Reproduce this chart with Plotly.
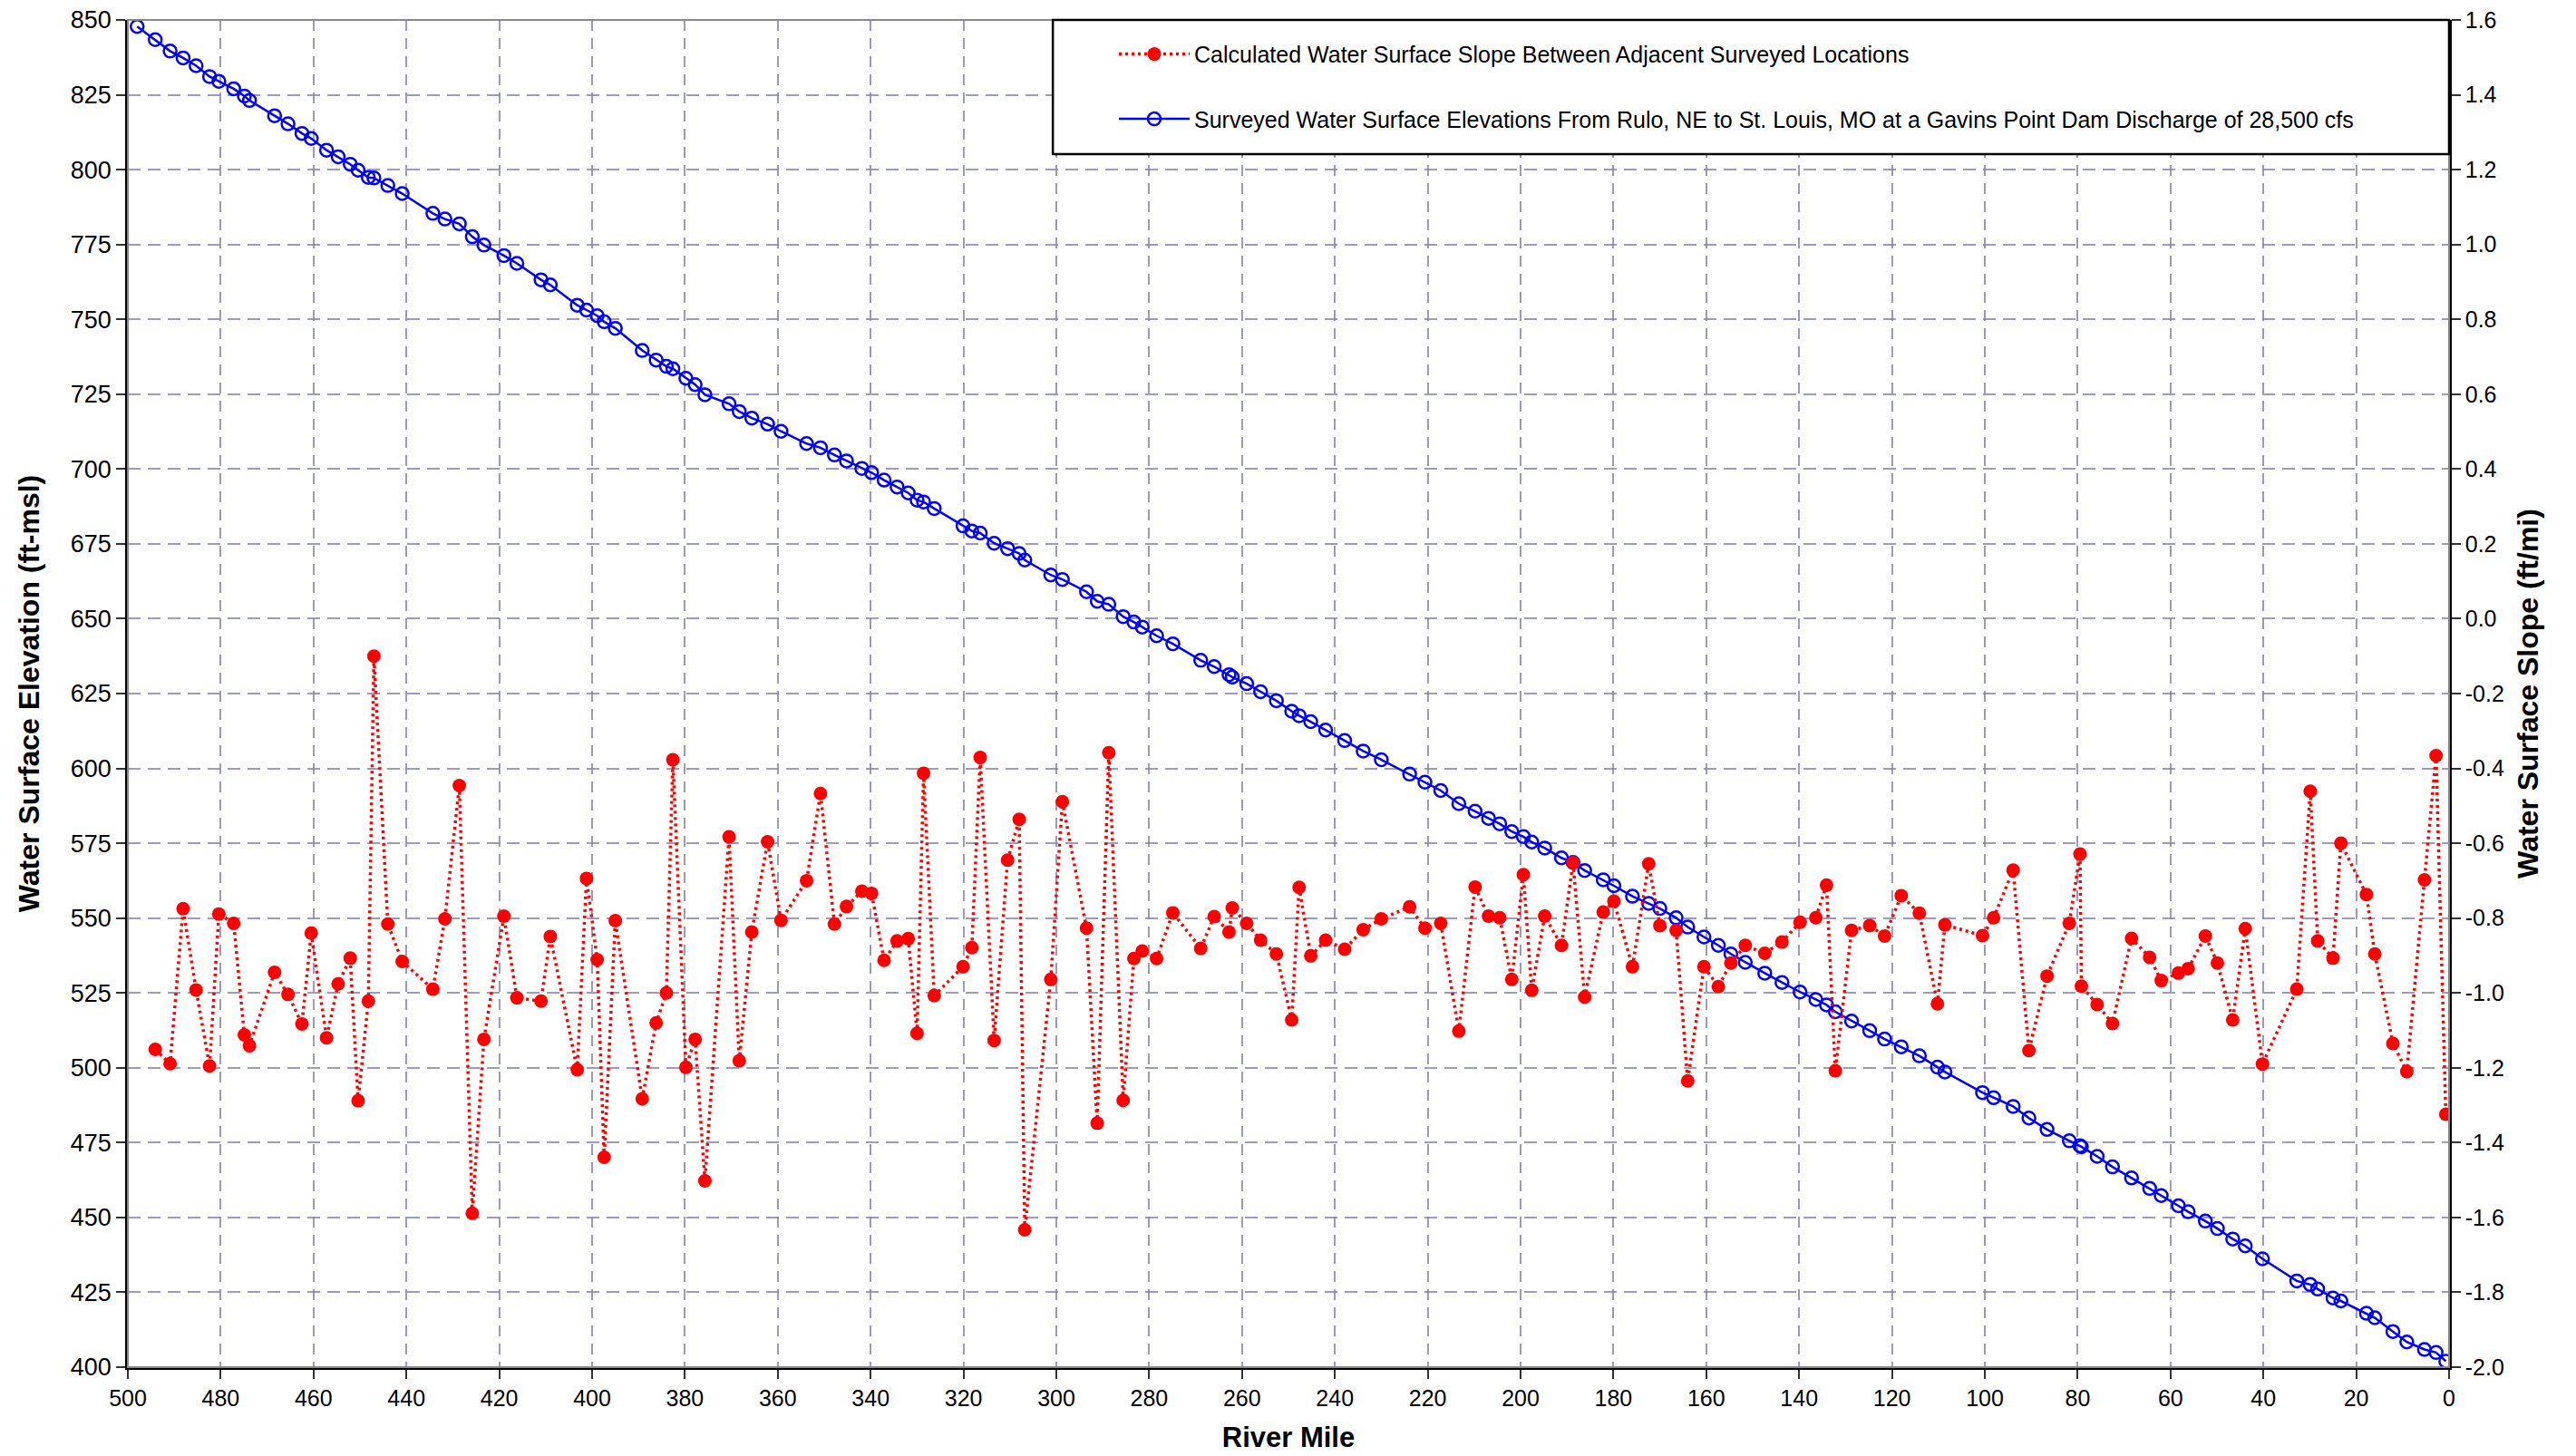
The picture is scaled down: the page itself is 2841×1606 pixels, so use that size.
import plotly.graph_objects as go

# ---- data ----
river_mile = [
    498.0, 494.1, 490.9, 488.1, 485.3, 482.4, 480.4, 477.2, 474.9, 473.8,
    468.4, 465.5, 462.5, 460.5, 457.2, 454.7, 452.1, 450.4, 448.2, 447.0,
    444.0, 440.9, 434.3, 431.7, 428.6, 425.8, 423.3, 419.0, 416.2, 411.0,
    409.0, 403.2, 401.2, 398.9, 397.4, 395.0, 389.2, 386.2, 384.0, 382.6,
    379.8, 377.8, 375.7, 370.5, 368.3, 365.6, 362.2, 359.3, 353.8, 350.8,
    347.8, 345.2, 341.9, 339.8, 337.1, 334.3, 331.9, 330.0, 328.6, 326.3,
    320.1, 318.2, 316.4, 313.4, 310.5, 308.0, 306.8, 301.2, 298.7, 293.5,
    291.2, 288.7, 285.6, 283.3, 281.5, 278.4, 274.9, 268.9, 266.0, 262.8,
    262.1, 259.0, 256.0, 252.6, 249.3, 247.7, 245.2, 242.0, 237.9, 233.9,
    230.0, 223.9, 220.6, 217.2, 213.3, 209.8, 206.9, 204.5, 201.9, 199.4,
    197.6, 194.8, 191.2, 188.7, 186.2, 182.2, 179.9, 175.9, 172.4, 170.0,
    166.5, 164.0, 160.5, 157.4, 154.7, 151.6, 147.4, 143.7, 139.8, 136.4,
    134.1, 132.2, 128.7, 124.8, 121.6, 118.0, 114.1, 110.2, 108.6, 100.5,
    98.1, 93.9, 90.5, 86.6, 81.8, 79.5, 79.2, 75.8, 72.5, 68.4,
    64.5, 62.0, 58.3, 56.2, 52.5, 49.9, 46.6, 43.9, 40.2, 32.8,
    29.9, 28.3, 25.0, 23.3, 17.8, 16.0, 12.1, 9.1, 5.3, 2.8,
    0.7,
]

elevation_ft_msl = [
    847.8, 843.4, 839.6, 837.3, 834.7, 831.1, 829.5, 827.0, 824.6, 823.1,
    818.0, 815.3, 812.1, 810.4, 806.5, 804.3, 801.8, 799.8, 797.4, 797.2,
    794.7, 792.0, 785.4, 783.5, 781.9, 777.6, 774.8, 771.3, 768.7, 763.2,
    761.5, 754.7, 753.1, 751.2, 749.2, 747.0, 739.6, 736.4, 734.3, 733.5,
    730.3, 728.2, 724.8, 721.8, 719.2, 717.0, 715.0, 712.6, 708.5, 707.1,
    704.7, 702.7, 700.2, 698.8, 696.3, 694.0, 692.0, 689.6, 689.0, 686.8,
    681.0, 679.3, 678.6, 675.2, 673.4, 671.8, 669.6, 664.6, 663.1, 659.0,
    655.8, 654.8, 650.7, 648.9, 647.2, 644.3, 641.6, 636.1, 634.0, 631.3,
    630.5, 628.3, 625.6, 622.6, 619.1, 617.6, 615.6, 612.8, 609.3, 605.8,
    602.9, 598.1, 595.4, 592.6, 588.2, 585.7, 583.3, 581.5, 578.9, 577.2,
    575.4, 573.4, 570.1, 568.6, 565.9, 562.8, 560.8, 557.3, 554.9, 553.2,
    550.1, 547.0, 543.7, 540.9, 538.0, 535.2, 531.6, 528.5, 525.3, 522.8,
    521.0, 518.7, 515.6, 512.4, 509.6, 507.0, 504.0, 500.2, 498.6, 491.7,
    490.0, 487.1, 483.2, 479.4, 475.6, 474.0, 473.6, 470.4, 466.9, 463.2,
    459.7, 457.3, 453.9, 451.9, 448.8, 446.3, 442.8, 440.5, 436.2, 428.8,
    427.6, 426.1, 423.1, 422.1, 418.0, 416.5, 411.9, 408.4, 405.9, 404.9,
    402.0,
]

slope_ft_per_mi = [
    None, -1.151, -1.189, -0.775, -0.992, -1.195, -0.789, -0.814, -1.112, -1.141,
    -0.945, -1.004, -1.083, -0.840, -1.120, -0.976, -0.907, -1.288, -1.022, -0.100,
    -0.816, -0.916, -0.990, -0.802, -0.446, -1.589, -1.124, -0.795, -1.013, -1.022,
    -0.849, -1.205, -0.694, -0.911, -1.439, -0.807, -1.283, -1.080, -1.000, -0.377,
    -1.199, -1.124, -1.502, -0.583, -1.181, -0.837, -0.596, -0.806, -0.700, -0.467,
    -0.816, -0.769, -0.728, -0.734, -0.913, -0.861, -0.855, -1.108, -0.413, -1.007,
    -0.930, -0.879, -0.371, -1.127, -0.645, -0.536, -1.633, -0.964, -0.489, -0.827,
    -1.348, -0.358, -1.287, -0.908, -0.888, -0.908, -0.786, -0.881, -0.796, -0.837,
    -0.773, -0.814, -0.859, -0.896, -1.072, -0.718, -0.901, -0.859, -0.883, -0.831,
    -0.802, -0.770, -0.827, -0.814, -1.102, -0.717, -0.795, -0.799, -0.964, -0.684,
    -0.993, -0.795, -0.873, -0.652, -1.011, -0.784, -0.755, -0.930, -0.655, -0.820,
    -0.833, -1.235, -0.930, -0.983, -0.920, -0.873, -0.894, -0.864, -0.811, -0.799,
    -0.712, -1.208, -0.833, -0.820, -0.848, -0.740, -0.787, -1.029, -0.818, -0.847,
    -0.799, -0.672, -1.154, -0.955, -0.814, -0.629, -0.982, -1.031, -1.082, -0.854,
    -0.905, -0.967, -0.947, -0.935, -0.848, -0.920, -1.072, -0.828, -1.190, -0.990,
    -0.461, -0.861, -0.907, -0.600, -0.737, -0.896, -1.135, -1.210, -0.698, -0.366,
    -1.324,
]

x_tick_vals = list(range(0, 501, 20))
left_tick_vals = list(range(400, 851, 25))
right_tick_vals = [(i - 10) / 5 for i in range(19)]
right_tick_text = [f"{v:.1f}" for v in right_tick_vals]

elev_name = ("Surveyed Water Surface Elevations From Rulo, NE to St. Louis, MO "
             "at a Gavins Point Dam Discharge of 28,500 cfs")
slope_name = "Calculated Water Surface Slope Between Adjacent Surveyed Locations"

FONT = "Liberation Sans, Arial, sans-serif"
GRID = "rgba(130,130,175,0.8)"

fig = go.Figure()

fig.add_trace(go.Scatter(
    x=river_mile, y=elevation_ft_msl, name=elev_name, mode="lines+markers",
    line=dict(color="#0000ff", width=2.5),
    marker=dict(symbol="circle-open", size=14, color="#0000ff",
                line=dict(color="#0000ff", width=2.5)),
    yaxis="y", legendgroup="b", legendrank=2,
))

fig.add_trace(go.Scatter(
    x=river_mile, y=slope_ft_per_mi, name=slope_name, mode="lines+markers",
    line=dict(color="#ff0000", width=3.5, dash="3px,4px"),
    marker=dict(symbol="circle", size=15, color="#ff0000"),
    yaxis="y2", legendgroup="a", legendrank=1,
))

fig.update_layout(
    width=2841, height=1606,
    margin=dict(l=141, r=140, t=22, b=98, autoexpand=False),
    paper_bgcolor="white", plot_bgcolor="white",
    font=dict(family=FONT, size=25, color="black"),
    xaxis=dict(
        range=[500, 0], tickvals=x_tick_vals, ticks="outside", ticklen=10,
        tickwidth=2, tickcolor="#333", showline=True, linecolor="black",
        linewidth=2.5, showgrid=True, gridcolor=GRID, gridwidth=2,
        griddash="12px,8px", zeroline=False, automargin=False,
        tickfont=dict(size=25),
        title=dict(text="<b>River Mile</b>", font=dict(size=31), standoff=20),
    ),
    yaxis=dict(
        range=[400, 850], tickvals=left_tick_vals, ticks="outside", ticklen=10,
        tickwidth=2, tickcolor="#333", showline=True, linecolor="black",
        linewidth=2.5, showgrid=True, gridcolor=GRID, gridwidth=2,
        griddash="14px,8px", zeroline=False, automargin=False,
        tickfont=dict(size=27),
        title=dict(text="<b>Water Surface Elevation (ft-msl)</b>",
                   font=dict(size=32), standoff=25),
    ),
    yaxis2=dict(
        range=[-2.0, 1.6], tickvals=right_tick_vals, ticktext=right_tick_text,
        overlaying="y", side="right", ticks="outside", ticklen=10,
        tickwidth=2, tickcolor="#333", showline=True, linecolor="black",
        linewidth=2.5, showgrid=False, zeroline=False, automargin=False,
        tickfont=dict(size=25),
        title=dict(text="<b>Water Surface Slope (ft/mi)</b>",
                   font=dict(size=32), standoff=16),
    ),
    legend=dict(
        x=0.425, y=0.99, xanchor="left", yanchor="top",
        bgcolor="rgba(0,0,0,0)", borderwidth=0,
        font=dict(size=25), itemwidth=78, tracegroupgap=36,
        traceorder="grouped",
    ),
    showlegend=True,
    shapes=[
        dict(type="rect", xref="paper", yref="paper", x0=0, x1=1, y0=0, y1=1,
             line=dict(color="#888888", width=2), fillcolor="rgba(0,0,0,0)",
             layer="above"),
        dict(type="rect", xref="paper", yref="paper", x0=0.3985, x1=1.0,
             y0=0.9004, y1=1.0, line=dict(color="black", width=2.5),
             fillcolor="white", layer="above"),
    ],
)

fig.write_html(
    "out.html",
    config={"displayModeBar": False},
    post_script="document.body.style.margin='0';document.body.style.padding='0';",
)
